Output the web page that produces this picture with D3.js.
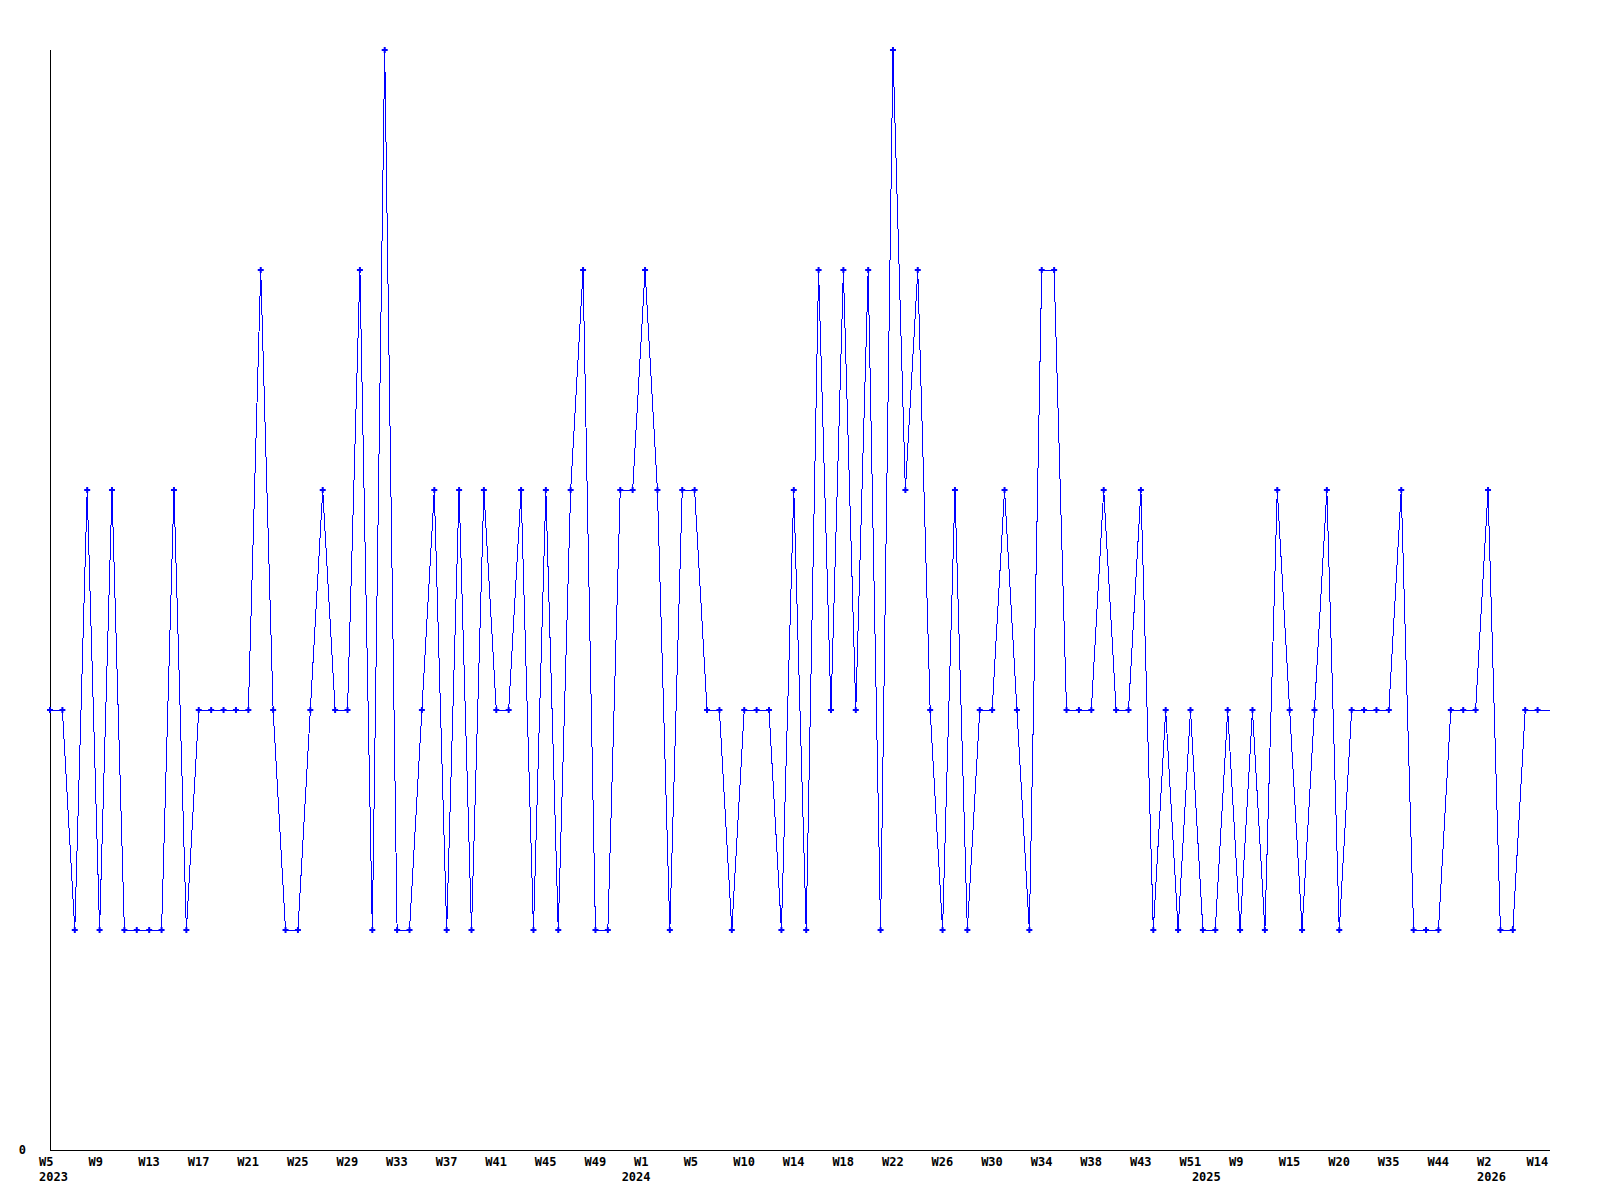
<!DOCTYPE html>
<html lang="en">
	<head>
		<meta charset="utf-8">
		<title>Weekly count</title>
		<script type="text/javascript" src="https://cdn.jsdelivr.net/npm/d3@7"></script>
		<style type="text/css">
			body {
				margin: 0px;
				background: #ffffff;
			}
			text {
				font-family: "DejaVu Sans Mono", "Liberation Mono", monospace;
				font-weight: bold;
				font-size: 12px;
				fill: #000000;
			}
		</style>
	</head>
	<body>
		<div id="chart"></div>
		<script type="text/javascript">
			//Data, one value per point
			var values = [
				2,2,1,3,1,3,1,1,1,1,3,1,2,2,2,2,2,4,2,1,1,2,3,2,2,4,1,5,1,1,2,
				3,1,3,1,3,2,2,3,1,3,1,3,4,1,1,3,3,4,3,1,3,3,2,2,1,2,2,2,1,3,1,
				4,2,4,2,4,1,5,3,4,2,1,3,1,2,2,3,2,1,4,4,2,2,2,3,2,2,3,1,2,1,2,
				1,1,2,1,2,1,3,2,1,2,3,1,2,2,2,2,3,1,1,1,2,2,2,3,1,1,2,2,2
			];

			//Week labels, shown on every 4th point
			var weekLabels = ["W5","W9","W13","W17","W21","W25","W29","W33","W37","W41","W45","W49",
				"W1","W5","W10","W14","W18","W22","W26","W30","W34","W38","W43","W51",
				"W9","W15","W20","W35","W44","W2","W14"];
			var labelStep = 4;

			//Year labels and the point they sit under
			var yearLabels = ["2023","2024","2025","2026"];
			var yearIndex = [0, 47, 93, 116];

			var yTicks = [0];

			//Overall setup
			var w = 1600;
			var h = 1200;
			var margin = {left:50, right:50, top:50, bottom:50};
			var width = w - margin.left - margin.right;
			var height = h - margin.top - margin.bottom;

			var svg = d3.select("#chart")
				.append("svg")
				.attr("width", w)
				.attr("height", h);

			var g = svg.append("g")
				.attr("transform", "translate(" + margin.left + ", " + margin.top + ")");

			//Scales
			var x = d3.scaleLinear()
				.domain([0, values.length - 1])
				.range([0, width]);

			var y = d3.scaleLinear()
				.domain([0, d3.max(values)])
				.range([height, 0]);

			//Axes lines
			g.append("line")
				.attr("x1", 0).attr("x2", 0)
				.attr("y1", 0).attr("y2", height)
				.attr("stroke", "#000")
				.attr("shape-rendering", "crispEdges");

			g.append("line")
				.attr("x1", 0).attr("x2", width)
				.attr("y1", height).attr("y2", height)
				.attr("stroke", "#000")
				.attr("shape-rendering", "crispEdges");

			//Y labels
			g.selectAll(".ylabel")
				.data(yTicks)
				.enter()
				.append("text")
				.attr("class", "ylabel")
				.attr("x", -24)
				.attr("y", function(d){ return y(d) + 4; })
				.attr("text-anchor", "end")
				.text(function(d){ return d; });

			//Week labels
			g.selectAll(".wlabel")
				.data(weekLabels)
				.enter()
				.append("text")
				.attr("class", "wlabel")
				.attr("x", function(d, i){ return x(i * labelStep) - 11; })
				.attr("y", height + 16)
				.text(function(d){ return d; });

			//Year labels
			g.selectAll(".ylab")
				.data(yearLabels)
				.enter()
				.append("text")
				.attr("class", "ylab")
				.attr("x", function(d, i){ return x(yearIndex[i]) - 11; })
				.attr("y", height + 31)
				.text(function(d){ return d; });

			//Line
			var line = d3.line()
				.x(function(d, i){ return x(i); })
				.y(function(d){ return y(d); });

			g.append("path")
				.datum(values)
				.attr("d", line)
				.attr("fill", "none")
				.attr("stroke", "#0000ff")
				.attr("stroke-width", 1)
				.attr("shape-rendering", "crispEdges");

			//Markers (the last point has none)
			var marker = d3.symbol().type(d3.symbolCross).size(20);

			g.selectAll(".marker")
				.data(values.slice(0, values.length - 1))
				.enter()
				.append("path")
				.attr("class", "marker")
				.attr("d", marker)
				.attr("transform", function(d, i){
					return "translate(" + x(i) + "," + y(d) + ")";
				})
				.attr("fill", "#0000ff");
		</script>
	</body>
</html>
